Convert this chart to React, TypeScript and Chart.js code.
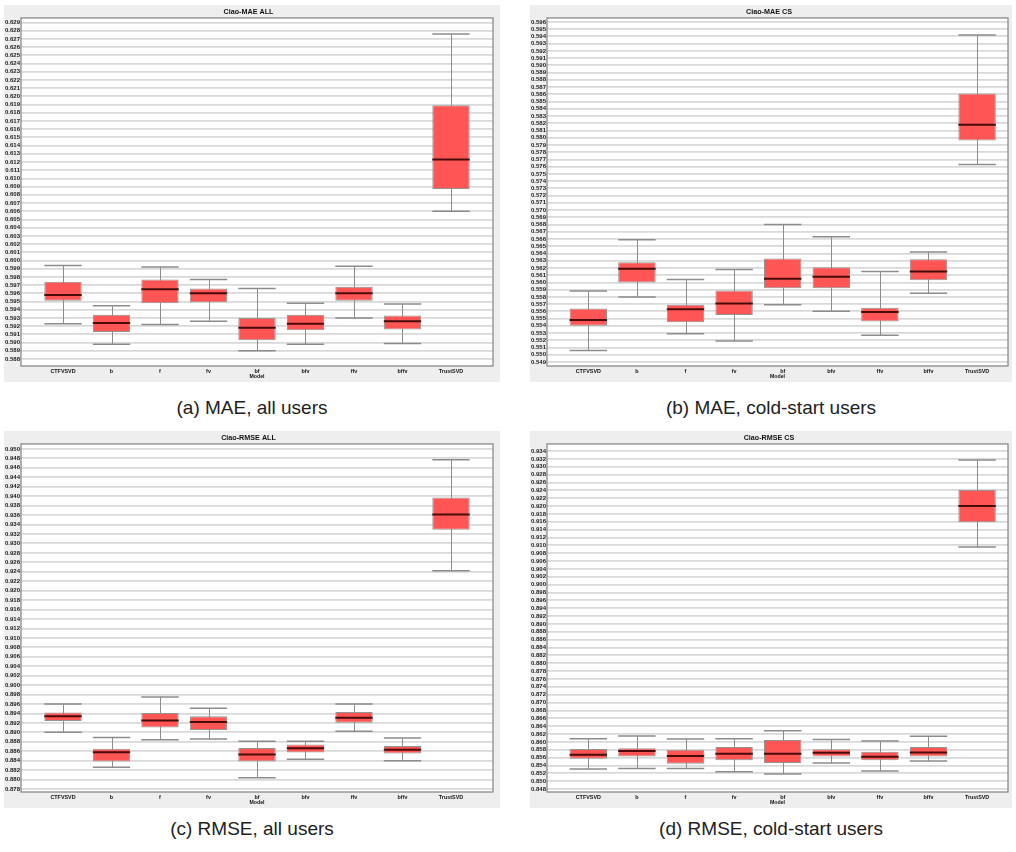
import React, { useEffect, useRef } from 'react';
import { Chart, registerables } from 'chart.js';

Chart.register(...registerables);

const FONT = '"Liberation Sans", Arial, Helvetica, sans-serif';
Chart.defaults.font.family = FONT;

const categories = ['CTFVSVD', 'b', 'f', 'fv', 'bf', 'bfv', 'ffv', 'bffv', 'TrustSVD'];

// (a) Ciao-MAE ALL
const maeAllLow = [0.5923, 0.5898, 0.5922, 0.5926, 0.589, 0.5898, 0.593, 0.5899, 0.606];
const maeAllQ1 = [0.5951, 0.5913, 0.5948, 0.5949, 0.5903, 0.5915, 0.5951, 0.5916, 0.6087];
const maeAllMedian = [0.5958, 0.5924, 0.5965, 0.596, 0.5918, 0.5923, 0.596, 0.5926, 0.6123];
const maeAllQ3 = [0.5974, 0.5934, 0.5977, 0.5966, 0.593, 0.5934, 0.5968, 0.5933, 0.6189];
const maeAllHigh = [0.5994, 0.5945, 0.5992, 0.5977, 0.5966, 0.5948, 0.5993, 0.5947, 0.6276];

// (b) Ciao-MAE CS
const maeCsLow = [0.5506, 0.558, 0.5529, 0.5519, 0.5569, 0.556, 0.5527, 0.5585, 0.5763];
const maeCsQ1 = [0.554, 0.56, 0.5545, 0.5555, 0.5592, 0.5592, 0.5546, 0.5603, 0.5796];
const maeCsMedian = [0.5548, 0.5619, 0.5563, 0.5571, 0.5605, 0.5608, 0.5559, 0.5615, 0.5818];
const maeCsQ3 = [0.5564, 0.5628, 0.5569, 0.5589, 0.5633, 0.5621, 0.5565, 0.5632, 0.5861];
const maeCsHigh = [0.5588, 0.5659, 0.5604, 0.5618, 0.568, 0.5663, 0.5615, 0.5642, 0.5942];

// (c) Ciao-RMSE ALL
const rmseAllLow = [0.89, 0.8826, 0.8884, 0.8886, 0.8804, 0.8843, 0.8902, 0.884, 0.9242];
const rmseAllQ1 = [0.8924, 0.8838, 0.891, 0.8905, 0.8838, 0.8857, 0.892, 0.8855, 0.9329];
const rmseAllMedian = [0.8934, 0.8858, 0.8925, 0.8922, 0.8853, 0.8866, 0.8931, 0.8863, 0.9361];
const rmseAllQ3 = [0.8942, 0.8865, 0.8941, 0.8934, 0.8867, 0.8874, 0.8943, 0.8871, 0.9397];
const rmseAllHigh = [0.896, 0.8889, 0.8975, 0.8951, 0.8881, 0.8881, 0.896, 0.8888, 0.9477];

// (d) Ciao-RMSE CS
const rmseCsLow = [0.8531, 0.8532, 0.8532, 0.8524, 0.8518, 0.8546, 0.8526, 0.8551, 0.9096];
const rmseCsQ1 = [0.8557, 0.8563, 0.8544, 0.8553, 0.8546, 0.8563, 0.8553, 0.8563, 0.9159];
const rmseCsMedian = [0.8567, 0.8577, 0.8564, 0.857, 0.857, 0.8572, 0.8562, 0.8573, 0.92];
const rmseCsQ3 = [0.8582, 0.8584, 0.858, 0.8587, 0.8605, 0.8581, 0.8575, 0.8587, 0.9241];
const rmseCsHigh = [0.8608, 0.8615, 0.8607, 0.8608, 0.8628, 0.8606, 0.8602, 0.8614, 0.9317];

// y tick label ranges: [first, last, step]
const maeAllTicks = [0.588, 0.629, 0.001];
const maeCsTicks = [0.549, 0.596, 0.001];
const rmseAllTicks = [0.878, 0.95, 0.002];
const rmseCsTicks = [0.848, 0.934, 0.002];

function tickList(t: number[]) {
  const [a, b, s] = t;
  const n = Math.round((b - a) / s);
  const out: number[] = [];
  for (let i = 0; i <= n; i++) out.push(Math.round((a + i * s) * 1e6) / 1e6);
  return out;
}

type Spec = {
  title: string;
  caption: string;
  low: number[]; q1: number[]; median: number[]; q3: number[]; high: number[];
  ticks: number[];
  yMin: number; yMax: number;
  xMin: number; xMax: number;
  left: number; top: number; width: number; height: number;
  padRight: number;
  captionTop: number;
};

const specs: Spec[] = [
  {
    title: 'Ciao-MAE ALL', caption: '(a) MAE, all users',
    low: maeAllLow, q1: maeAllQ1, median: maeAllMedian, q3: maeAllQ3, high: maeAllHigh,
    ticks: maeAllTicks, yMin: 0.58715, yMax: 0.62955, xMin: -0.866, xMax: 8.866,
    left: 4, top: 5, width: 496, height: 377, padRight: 7, captionTop: 397,
  },
  {
    title: 'Ciao-MAE CS', caption: '(b) MAE, cold-start users',
    low: maeCsLow, q1: maeCsQ1, median: maeCsMedian, q3: maeCsQ3, high: maeCsHigh,
    ticks: maeCsTicks, yMin: 0.54845, yMax: 0.59655, xMin: -0.85, xMax: 8.636,
    left: 530, top: 5, width: 482, height: 377, padRight: 4, captionTop: 397,
  },
  {
    title: 'Ciao-RMSE ALL', caption: '(c) RMSE, all users',
    low: rmseAllLow, q1: rmseAllQ1, median: rmseAllMedian, q3: rmseAllQ3, high: rmseAllHigh,
    ticks: rmseAllTicks, yMin: 0.87736, yMax: 0.95106, xMin: -0.866, xMax: 8.866,
    left: 4, top: 431, width: 496, height: 377, padRight: 7, captionTop: 818,
  },
  {
    title: 'Ciao-RMSE CS', caption: '(d) RMSE, cold-start users',
    low: rmseCsLow, q1: rmseCsQ1, median: rmseCsMedian, q3: rmseCsQ3, high: rmseCsHigh,
    ticks: rmseCsTicks, yMin: 0.84724, yMax: 0.9358, xMin: -0.85, xMax: 8.636,
    left: 530, top: 431, width: 482, height: 377, padRight: 4, captionTop: 818,
  },
];

function makeDecor(spec: Spec) {
  return {
    id: 'boxDecor',
    beforeDraw(chart: any) {
      const { ctx, chartArea: a, width, height } = chart;
      ctx.save();
      ctx.fillStyle = '#eeeeee';
      ctx.fillRect(0, 0, width, height);
      ctx.fillStyle = '#ffffff';
      ctx.fillRect(a.left, a.top, a.right - a.left, a.bottom - a.top);
      ctx.restore();
    },
    beforeDatasetsDraw(chart: any) {
      const { ctx } = chart;
      const meta = chart.getDatasetMeta(0);
      const ys = chart.scales.y;
      ctx.save();
      ctx.strokeStyle = '#8c8c8c';
      meta.data.forEach((bar: any, i: number) => {
        const x = bar.x;
        const hw = bar.width / 2;
        const yl = ys.getPixelForValue(spec.low[i]);
        const yh = ys.getPixelForValue(spec.high[i]);
        ctx.lineWidth = 1;
        ctx.beginPath();
        ctx.moveTo(Math.round(x) + 0.5, yh);
        ctx.lineTo(Math.round(x) + 0.5, yl);
        ctx.stroke();
        ctx.lineWidth = 1.5;
        ctx.beginPath();
        ctx.moveTo(x - hw, yh);
        ctx.lineTo(x + hw, yh);
        ctx.moveTo(x - hw, yl);
        ctx.lineTo(x + hw, yl);
        ctx.stroke();
      });
      ctx.restore();
    },
    afterDatasetsDraw(chart: any) {
      const { ctx, chartArea: a } = chart;
      const meta = chart.getDatasetMeta(0);
      const ys = chart.scales.y;
      ctx.save();
      ctx.strokeStyle = '#4a0a0a';
      ctx.lineWidth = 2;
      meta.data.forEach((bar: any, i: number) => {
        const x = bar.x;
        const hw = bar.width / 2;
        const ym = ys.getPixelForValue(spec.median[i]);
        ctx.beginPath();
        ctx.moveTo(x - hw, ym);
        ctx.lineTo(x + hw, ym);
        ctx.stroke();
      });
      ctx.strokeStyle = '#8a8a8a';
      ctx.lineWidth = 1.3;
      ctx.strokeRect(a.left, a.top, a.right - a.left, a.bottom - a.top);
      ctx.restore();
    },
  };
}

function BoxPanel({ spec }: { spec: Spec }) {
  const ref = useRef<HTMLCanvasElement | null>(null);
  useEffect(() => {
    if (!ref.current) return;
    const yTicks = tickList(spec.ticks);
    const chart = new Chart(ref.current, {
      type: 'bar',
      data: {
        datasets: [
          {
            label: 'box',
            data: categories.map((_, i) => ({ x: i, y: [spec.q1[i], spec.q3[i]] })) as any,
            backgroundColor: '#ff5555',
            borderColor: '#939393',
            borderWidth: 1,
            borderSkipped: false,
            barPercentage: 0.77,
            categoryPercentage: 1,
          },
        ],
      },
      options: {
        responsive: false,
        animation: false,
        devicePixelRatio: 1,
        layout: { padding: { left: 0, right: spec.padRight, top: 0, bottom: 0 } },
        plugins: {
          legend: { display: false },
          tooltip: { enabled: false },
          title: {
            display: true,
            text: spec.title,
            color: '#111111',
            font: { size: 7.2, weight: 'bold', family: FONT },
            padding: { top: 2.5, bottom: 1.8 },
          },
        },
        scales: {
          x: {
            type: 'linear',
            offset: false,
            min: spec.xMin,
            max: spec.xMax,
            afterBuildTicks: (s: any) => {
              s.ticks = categories.map((_, i) => ({ value: i }));
            },
            afterFit: (s: any) => {
              s.height = 16;
            },
            grid: { display: false, drawTicks: false, offset: false },
            border: { display: false },
            ticks: {
              autoSkip: false,
              maxRotation: 0,
              padding: 2,
              color: '#111111',
              font: { size: 5.4, weight: 'bold', family: FONT },
              callback: (v: any) => categories[Math.round(Number(v))] ?? '',
            },
            title: {
              display: true,
              text: 'Model',
              color: '#111111',
              font: { size: 5.2, weight: 'bold', family: FONT },
              padding: { top: 0, bottom: 2 },
            },
          },
          y: {
            type: 'linear',
            min: spec.yMin,
            max: spec.yMax,
            afterBuildTicks: (s: any) => {
              s.ticks = yTicks.map((v) => ({ value: v }));
            },
            afterFit: (s: any) => {
              s.width = 17;
            },
            grid: { color: '#d9d9d9', lineWidth: 1.8, drawTicks: false },
            border: { display: false },
            ticks: {
              autoSkip: false,
              padding: 1,
              color: '#1a1a1a',
              font: { size: 6, weight: 'bold', family: FONT },
              callback: (v: any) => Number(v).toFixed(3),
            },
          },
        },
      } as any,
      plugins: [makeDecor(spec)],
    });
    return () => chart.destroy();
  }, [spec]);

  return (
    <>
      <canvas
        ref={ref}
        width={spec.width}
        height={spec.height}
        style={{ position: 'absolute', left: spec.left, top: spec.top, width: spec.width, height: spec.height }}
      />
      <div
        style={{
          position: 'absolute',
          left: spec.left + spec.width / 2 - 200,
          top: spec.captionTop,
          width: 400,
          textAlign: 'center',
          fontFamily: FONT,
          fontSize: 19,
          lineHeight: '22px',
          color: '#222222',
        }}
      >
        {spec.caption}
      </div>
    </>
  );
}

export default function App() {
  return (
    <div style={{ position: 'absolute', left: 0, top: 0, width: 1016, height: 852, background: '#ffffff', overflow: 'hidden' }}>
      {specs.map((s) => (
        <BoxPanel key={s.title} spec={s} />
      ))}
    </div>
  );
}
